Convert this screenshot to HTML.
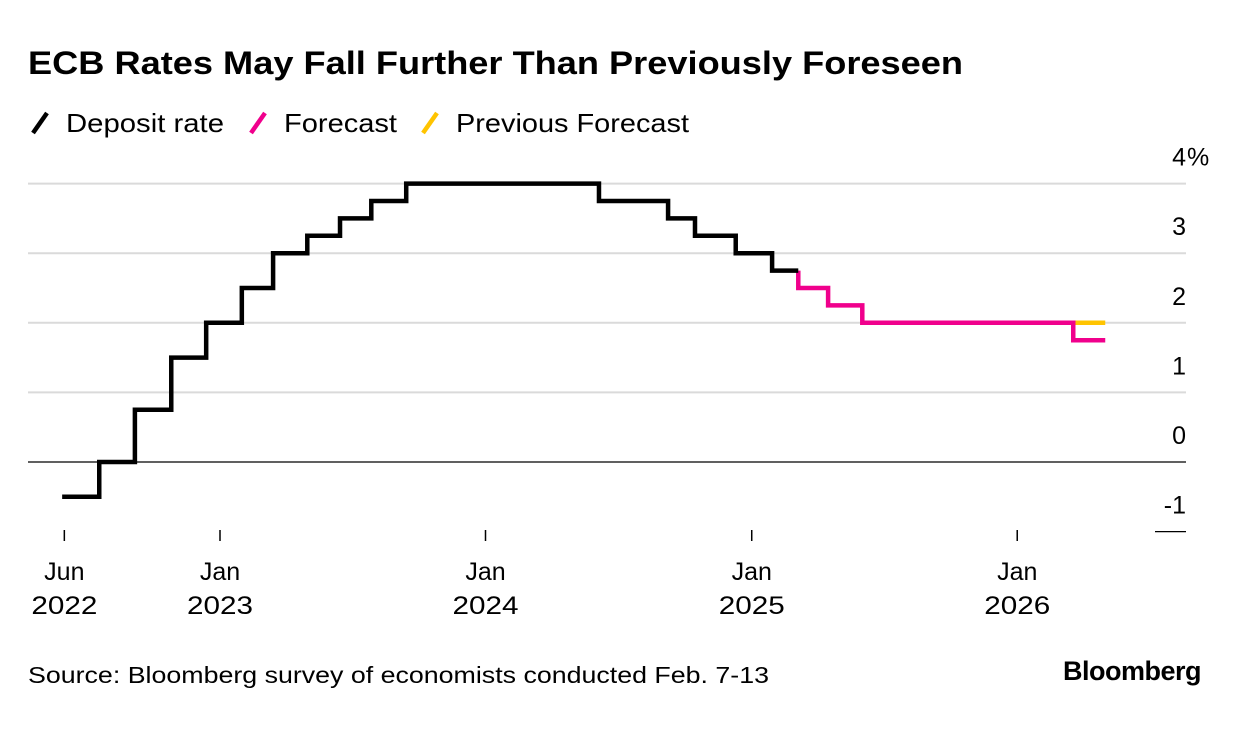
<!DOCTYPE html>
<html><head><meta charset="utf-8"><style>
body{margin:0;background:#fff;font-family:"Liberation Sans",sans-serif;}
#wrap{position:relative;width:1240px;height:732px;overflow:hidden;}
</style></head><body>
<div id="wrap">
<svg id="svg" width="1240" height="732" style="position:absolute;left:0;top:0">
<text x="28" y="74" font-size="32" font-weight="bold" fill="#000" textLength="935" lengthAdjust="spacingAndGlyphs">ECB Rates May Fall Further Than Previously Foreseen</text>
<g font-size="26" fill="#000">
<g><line x1="33" y1="133" x2="47" y2="113" stroke="#000" stroke-width="4.5"/><text x="66" y="132" textLength="158" lengthAdjust="spacingAndGlyphs">Deposit rate</text></g>
<g><line x1="251" y1="133" x2="265" y2="113" stroke="#f0008c" stroke-width="4.5"/><text x="284" y="132" textLength="113" lengthAdjust="spacingAndGlyphs">Forecast</text></g>
<g><line x1="423" y1="133" x2="437" y2="113" stroke="#ffc400" stroke-width="4.5"/><text x="456" y="132" textLength="233" lengthAdjust="spacingAndGlyphs">Previous Forecast</text></g>
</g>
<g id="grid"></g><g id="xaxis"></g><g id="series"></g>
<text x="28" y="683" font-size="23" fill="#000" textLength="741" lengthAdjust="spacingAndGlyphs">Source: Bloomberg survey of economists conducted Feb. 7-13</text>
<text x="1201" y="680" font-size="27" font-weight="bold" text-anchor="end" fill="#000" letter-spacing="-0.5">Bloomberg</text>
</svg></div>
<script>
const yTicks=[4,3,2,1,0,-1];
const yTickLabels=["4","3","2","1","0","-1"];
const xTickDates=["2022-06-01","2023-01-01","2024-01-01","2025-01-01","2026-01-01"];
const xTickMonth=["Jun","Jan","Jan","Jan","Jan"];
const xTickYear=["2022","2023","2024","2025","2026"];
const depositDates=["2022-05-29","2022-07-19","2022-09-06","2022-10-26","2022-12-13","2023-01-31","2023-03-15","2023-05-01","2023-06-15","2023-07-28","2023-09-14","2024-06-05","2024-09-08","2024-10-15","2024-12-10","2025-01-29","2025-03-06"];
const depositValues=[-0.5,0,0.75,1.5,2.0,2.5,3.0,3.25,3.5,3.75,4.0,3.75,3.5,3.25,3.0,2.75,2.75];
const forecastDates=["2025-03-06","2025-04-16","2025-06-02","2026-03-19","2026-05-02"];
const forecastValues=[2.5,2.25,2.0,1.75,1.75];
const prevDates=["2026-03-19","2026-05-02"];
const prevValues=[2.0,2.0];
const NS="http://www.w3.org/2000/svg";
const t0=Date.parse("2023-01-01");
function X(d){return 220+(Date.parse(d)-t0)/86400000*0.7274;}
function Y(v){return 462-v*69.6;}
function el(tag,attrs,parent){const e=document.createElementNS(NS,tag);for(const k in attrs)e.setAttribute(k,attrs[k]);parent.appendChild(e);return e;}
const grid=document.getElementById('grid');
yTicks.forEach((v,i)=>{
 let l;
 if(v===0){l=el('line',{x1:28,x2:1186,y1:Y(v),y2:Y(v),stroke:'#000','stroke-width':1.3},grid);}
 else if(v===-1){l=el('line',{x1:1155,x2:1186,y1:Y(v),y2:Y(v),stroke:'#000','stroke-width':1.3},grid);}
 else{l=el('line',{x1:28,x2:1186,y1:Y(v),y2:Y(v),stroke:'#dadada','stroke-width':2},grid);}
 
 
 const t=el('text',{x:1186,y:Y(v)-18,'font-size':25,'text-anchor':'end',fill:'#000'},grid);
 t.textContent=yTickLabels[i];
 
 
 if(i===0){
  const p=el('text',{x:1187,y:Y(v)-18,'font-size':25,fill:'#000'},grid);
  p.textContent='%';
  
  
 }
});
const xa=document.getElementById('xaxis');
xTickDates.forEach((d,i)=>{
 const x=X(d);
 const tk=el('line',{x1:x,x2:x,y1:530,y2:541,stroke:'#000','stroke-width':1.5},xa);
 
 
 const t1=el('text',{x:x,y:580,'font-size':25,'text-anchor':'middle',fill:'#000'},xa);
 t1.textContent=xTickMonth[i];
 
 
 const t2=el('text',{x:x,y:614,'font-size':25,'text-anchor':'middle',fill:'#000',textLength:66,lengthAdjust:'spacingAndGlyphs'},xa);
 t2.textContent=xTickYear[i];
 
 
});
function stepPath(ds,vs){let p='M'+X(ds[0])+','+Y(vs[0]);for(let i=1;i<ds.length;i++){p+=' H'+X(ds[i])+' V'+Y(vs[i]);}return p;}
const sg=document.getElementById('series');
const pp=el('path',{d:'M'+X(prevDates[0])+','+Y(2.0)+' V'+Y(prevValues[0])+' H'+X(prevDates[1]),fill:'none',stroke:'#ffc400','stroke-width':4.5},sg);


const fp=el('path',{d:'M'+X(forecastDates[0])+','+Y(depositValues[depositValues.length-1])+' V'+Y(forecastValues[0])+stepPath(forecastDates,forecastValues).replace(/^M[^ ]+/,''),fill:'none',stroke:'#f0008c','stroke-width':4.5},sg);


const dp=el('path',{d:stepPath(depositDates,depositValues),fill:'none',stroke:'#000','stroke-width':4.5},sg);


</script>
</body></html>
